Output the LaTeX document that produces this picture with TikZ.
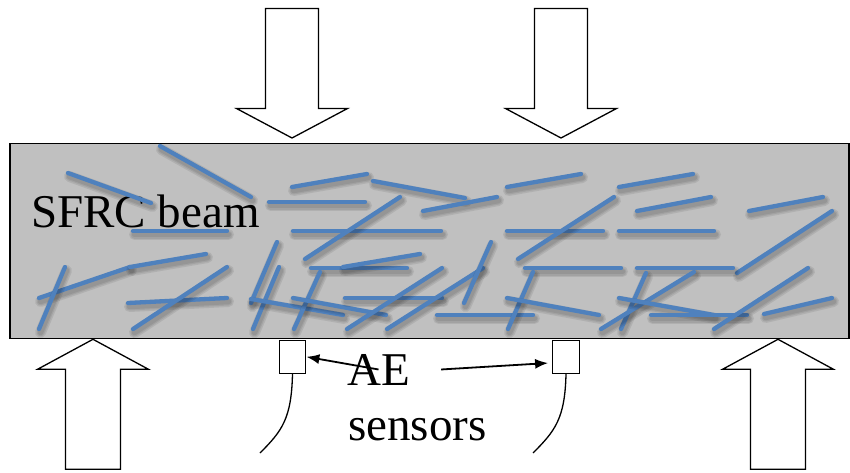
\documentclass[tikz,border=0pt]{standalone}
\usepackage{fontspec}
\setmainfont{Liberation Serif}
\newfontfamily\labelfont{Liberation Serif}
\usetikzlibrary{arrows.meta}
\definecolor{fibreblue}{RGB}{79,129,189}
\definecolor{beamgray}{RGB}{192,192,192}

\begin{document}
\begin{tikzpicture}[x=1pt,y=-1pt,
  load/.style={draw,fill=white,line width=1.3pt},
  fibre/.style={draw=fibreblue,line width=4.3pt,line cap=round},
  fshadow/.style={draw=black,opacity=0.08,line cap=round,xshift=1.5pt,yshift=-3.5pt},
  sensor/.style={draw,fill=white,line width=1.2pt,minimum width=26.6pt,minimum height=32.7pt,inner sep=0pt},
  lbl/.style={font=\labelfont\fontsize{47}{55}\selectfont,inner sep=0pt,anchor=base west}]
\useasboundingbox (0,0) rectangle (850,473);

% beam and its label
\node[draw,fill=beamgray,line width=1.5pt,minimum width=839pt,minimum height=195pt,inner sep=0pt] (beam) at (429.5,240.8) {};
\node[lbl] (title) at (31,227) {SFRC beam};

% loads on top, supports underneath
\foreach \c in {292,561}
  \draw[load] (\c,138) -- ++(55.5,-29.5) -- ++(-29,0) -- ++(0,-100) -- ++(-53,0) -- ++(0,100) -- ++(-29,0) -- cycle;
\foreach \c in {93,778}
  \draw[load] (\c,339.3) -- ++(55.5,30) -- ++(-28,0) -- ++(0,100) -- ++(-55,0) -- ++(0,-100) -- ++(-28,0) -- cycle;

% steel fibres
\foreach \xa/\ya/\xb/\yb in {
  160/146/251/197, 68/173/151/203, 133/231/227/231, 39/298/130/267,
  130/267/206/254, 65/267/39/329, 128/303/227/298, 227/267/133/329,
  277/242/251/303, 279/267/253/329, 251/299/343/315, 269/202/365/202,
  292/187/367/174, 293/231/441/231, 400/197/305/259, 373/181/465/198,
  423/211/497/197, 507/187/581/174, 507/231/603/231, 518/259/614/197,
  311/268/407/268, 343/267/420/254, 320/272/294/329, 293/298/386/315,
  345/298/442/298, 442/268/347/329, 483/268/387/329, 491/242/464/303,
  437/315/533/315, 525/268/621/268, 533/272/508/329, 507/298/599/315,
  619/187/693/174, 637/211/711/197, 619/231/714/231, 749/211/823/197,
  832/211/737/273, 637/268/733/268, 646/273/621/329, 694/272/601/329,
  619/298/714/315, 651/315/747/315, 808/268/714/329, 764/314/832/298}
{
  \draw[fshadow,line width=11pt] (\xa,\ya) -- (\xb,\yb);
  \draw[fshadow,line width=8pt] (\xa,\ya) -- (\xb,\yb);
  \draw[fshadow,line width=5.5pt] (\xa,\ya) -- (\xb,\yb);
  \draw[fibre] (\xa,\ya) -- (\xb,\yb);
}

% AE sensors with their cables
\node[sensor] (sensorL) at (292.5,356.8) {};
\node[sensor] (sensorR) at (566,356.8) {};
\coordinate (cableL) at (260,453);
\coordinate (cableR) at (533,453);
\draw[line width=1.3pt] (sensorL.south) .. controls +(-1,45) and +(22,-22) .. (cableL);
\draw[line width=1.3pt] (sensorR.south) .. controls +(-1,45) and +(22,-22) .. (cableR);

\node[lbl] (ae) at (347,385) {AE};
\node[lbl] (sens) at (348,440) {sensors};
\draw[-{Latex[length=13pt,width=10pt]},line width=1.8pt] (ae.center) -- (sensorL.east);
\draw[-{Latex[length=13pt,width=10pt]},line width=1.8pt,shorten >=4pt] ([xshift=31pt]ae.east) -- ([yshift=-6pt]sensorR.west);
\end{tikzpicture}
\end{document}
